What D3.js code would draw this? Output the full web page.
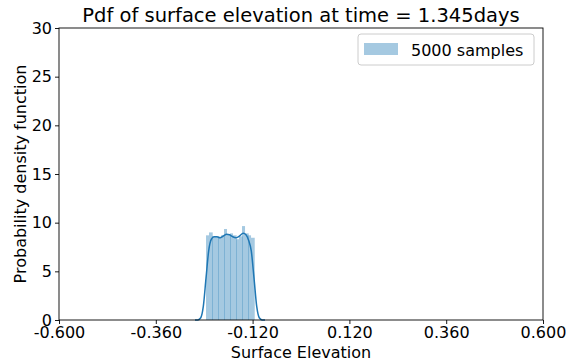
<!DOCTYPE html>
<html>
<head>
<meta charset="utf-8">
<script src="https://cdn.jsdelivr.net/npm/d3@7"></script>
<style>
  html, body { margin: 0; padding: 0; background: #fff; }
  svg { display: block; font-family: "DejaVu Sans", sans-serif; }
</style>
</head>
<body>
<svg id="chart" width="575" height="364"></svg>
<script>
// Histogram of 5000 surface-elevation samples (density-normalised)
const binStart = -0.2355;
const binWidth = 0.00744;
const binDensity = [8.7, 9.0, 8.6, 8.6, 8.5, 8.7, 9.35, 8.8, 8.9, 8.7, 8.3, 8.6, 9.65, 8.9, 8.7, 8.45];

// Kernel density estimate of the same samples
const kdeX = [-0.2628, -0.2554, -0.2489, -0.2422, -0.2355, -0.2289, -0.2222, -0.2157, -0.2083, -0.2008,
              -0.1934, -0.1842, -0.1773, -0.1693, -0.1612, -0.1537, -0.1431, -0.1364, -0.1299, -0.1233,
              -0.1165, -0.1098, -0.1031, -0.0967, -0.0893];
const kdeY = [0, 0.01, 0.2, 1.4, 4.3, 7.1, 8.3, 8.55, 8.55, 8.45,
              8.6, 8.8, 8.75, 8.55, 8.45, 8.6, 8.9, 8.75, 8.2, 7.1,
              4.3, 1.4, 0.2, 0.01, 0];

const xTicks = [-0.6, -0.36, -0.12, 0.12, 0.36, 0.6];
const yTicks = [0, 5, 10, 15, 20, 25, 30];

const titleText = "Pdf of surface elevation at time = 1.345days";
const xLabel = "Surface Elevation";
const yLabel = "Probability density function";
const legendLabel = "5000 samples";

const blue = "#1f77b4";
const margin = { left: 59, right: 32, top: 28, bottom: 44 };
const W = 575, H = 364;

const svg = d3.select("#chart");
const x = d3.scaleLinear().domain([-0.6, 0.6]).range([margin.left, W - margin.right]);
const y = d3.scaleLinear().domain([0, 30]).range([H - margin.bottom, margin.top]);

// bars (odd bins overlap their neighbour by a hair, giving the faint seams)
const bins = binDensity.map((v, i) => ({ i, x0: binStart + i * binWidth, x1: binStart + (i + 1) * binWidth, v }));
svg.append("g").selectAll("rect").data(bins).join("rect")
  .attr("x", d => x(d.x0))
  .attr("width", d => x(d.x1) - x(d.x0) + (d.i % 2 ? 0.7 : 0))
  .attr("y", d => y(d.v))
  .attr("height", d => y(0) - y(d.v))
  .attr("fill", blue)
  .attr("fill-opacity", 0.4);

// KDE curve
const kde = kdeX.map((v, i) => [v, kdeY[i]]);
const kdeLine = d3.line().x(d => x(d[0])).y(d => y(d[1])).curve(d3.curveMonotoneX);
svg.append("path")
  .datum(kde)
  .attr("fill", "none")
  .attr("stroke", blue)
  .attr("stroke-width", 1.5)
  .attr("d", kdeLine);

// axes
const fmt = d => d.toFixed(3);
const xAxis = svg.append("g")
  .attr("transform", `translate(0,${y(0)})`)
  .call(d3.axisBottom(x).tickValues(xTicks).tickFormat(fmt).tickSize(4).tickPadding(3));
const yAxis = svg.append("g")
  .attr("transform", `translate(${x(-0.6)},0)`)
  .call(d3.axisLeft(y).tickValues(yTicks).tickSize(4).tickPadding(3));
[xAxis, yAxis].forEach(g => {
  g.select(".domain").remove();
  g.selectAll("text").attr("font-size", 16).attr("fill", "#000").attr("font-family", "DejaVu Sans");
  g.selectAll("line").attr("stroke", "#000").attr("stroke-width", 0.9);
});

// frame
svg.append("rect")
  .attr("x", x(-0.6)).attr("y", y(30))
  .attr("width", x(0.6) - x(-0.6)).attr("height", y(0) - y(30))
  .attr("fill", "none").attr("stroke", "#000").attr("stroke-width", 0.9);

// title and labels
svg.append("text").attr("x", (x(-0.6) + x(0.6)) / 2).attr("y", 22)
  .attr("text-anchor", "middle").attr("font-size", 19.5).text(titleText);
svg.append("text").attr("x", (x(-0.6) + x(0.6)) / 2).attr("y", 358)
  .attr("text-anchor", "middle").attr("font-size", 16).text(xLabel);
svg.append("text")
  .attr("transform", `translate(26,${(y(0) + y(30)) / 2}) rotate(-90)`)
  .attr("text-anchor", "middle").attr("font-size", 16).text(yLabel);

// legend
const lg = svg.append("g").attr("transform", "translate(358,34)");
lg.append("rect").attr("width", 176).attr("height", 31).attr("rx", 3)
  .attr("fill", "#fff").attr("fill-opacity", 0.8).attr("stroke", "#ccc").attr("stroke-width", 1);
lg.append("rect").attr("x", 6).attr("y", 9).attr("width", 34).attr("height", 12)
  .attr("fill", blue).attr("fill-opacity", 0.4);
lg.append("text").attr("x", 53).attr("y", 21.5).attr("font-size", 16).text(legendLabel);
</script>
</body>
</html>
